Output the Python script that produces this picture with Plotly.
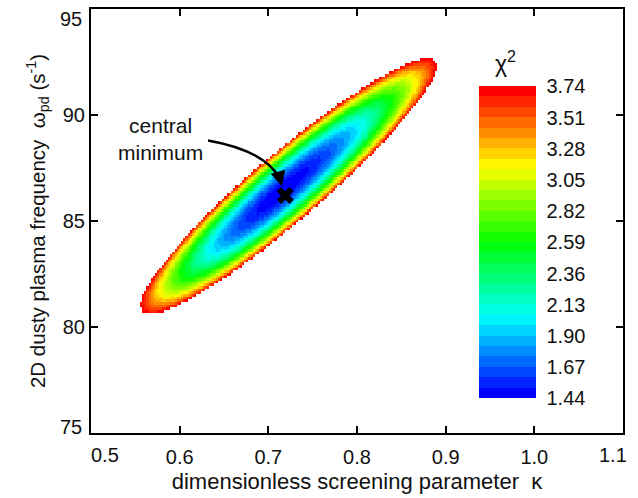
import numpy as np
import plotly.graph_objects as go

# ---- fit results: chi-squared landscape over (kappa, omega_pd) ----
KAPPA_BEST = 0.719          # central minimum, screening parameter
OMEGA_BEST = 86.2           # central minimum, omega_pd (1/s)
KAPPA_C = 0.715             # centre of the chi^2 valley
OMEGA_C = 86.4
CHI2_MIN = 1.44             # minimum chi^2
DELTA_CHI2 = 2.30           # plotted range above minimum (68% region, 2 params)
VALLEY_SLOPE = 33.8         # d(omega)/d(kappa) along the valley floor
REACH_UP = 0.175            # kappa extent of the region toward larger kappa
REACH_DOWN = 0.159          # kappa extent toward smaller kappa
HALF_WIDTH = 2.08           # omega half-width of the region across the valley

# colour bar ticks
CBAR_TICKS = [1.44, 1.67, 1.90, 2.13, 2.36, 2.59, 2.82, 3.05, 3.28, 3.51, 3.74]
N_LEVELS = 30

# axis ticks
X_TICKS = [0.5, 0.6, 0.7, 0.8, 0.9, 1.0, 1.1]
Y_TICKS = [75, 80, 85, 90, 95]

# ---- build the chi^2 map on a regular grid ----
kappa = np.linspace(0.5, 1.1, 246)
omega = np.linspace(75, 95, 161)
K, W = np.meshgrid(kappa, omega)
dk = K - KAPPA_C
dv = (W - OMEGA_C) - VALLEY_SLOPE * dk
reach = np.where(dk > 0, REACH_UP, REACH_DOWN)
chi2 = CHI2_MIN + DELTA_CHI2 * ((dk / reach) ** 2 + (dv / HALF_WIDTH) ** 2)
chi2 = np.where(chi2 <= CHI2_MIN + DELTA_CHI2, chi2, np.nan)

zmin, zmax = CHI2_MIN, CHI2_MIN + DELTA_CHI2


# stepped rainbow colour scale: blue - cyan - green - yellow - red
def rainbow(f):
    anchors = [(0.0, (0, 0, 255)), (0.25, (0, 255, 255)), (0.5, (0, 255, 0)),
               (0.75, (255, 255, 0)), (1.0, (255, 0, 0))]
    for (f0, c0), (f1, c1) in zip(anchors[:-1], anchors[1:]):
        if f <= f1:
            t = (f - f0) / (f1 - f0)
            return "rgb(%d,%d,%d)" % tuple(round(a + t * (b - a)) for a, b in zip(c0, c1))
    return "rgb(255,0,0)"


colorscale = []
for i in range(N_LEVELS):
    c = rainbow(i / (N_LEVELS - 1))
    colorscale.append([i / N_LEVELS, c])
    colorscale.append([(i + 1) / N_LEVELS, c])

FONT = "Arial, Liberation Sans, sans-serif"
FS = 20
TXT = "#111"

fig = go.Figure()
fig.add_trace(go.Heatmap(
    x=kappa, y=omega, z=chi2,
    zmin=zmin, zmax=zmax, zsmooth=False,
    colorscale=colorscale,
    hoverinfo="skip",
    colorbar=dict(
        x=0.7293, xanchor="left", xpad=0,
        y=0.4495, yanchor="middle", ypad=0,
        len=0.735, lenmode="fraction",
        thickness=57, thicknessmode="pixels",
        outlinewidth=0,
        tickvals=CBAR_TICKS,
        ticktext=["%.2f" % v for v in CBAR_TICKS],
        ticks="outside", ticklen=7, tickcolor="rgba(0,0,0,0)",
        tickfont=dict(family=FONT, size=FS, color=TXT),
    ),
))

# colour bar title
fig.add_annotation(xref="paper", yref="paper", x=0.780, y=0.874,
                   xanchor="center", yanchor="middle",
                   text="χ<sup>2</sup>", showarrow=False,
                   font=dict(family=FONT, size=23, color=TXT))

# central minimum marker
fig.add_trace(go.Scatter(
    x=[KAPPA_BEST], y=[OMEGA_BEST], mode="markers",
    marker=dict(symbol="x", size=15, color="black", line=dict(width=0)),
    hoverinfo="skip", showlegend=False,
))

# curved arrow pointing at the minimum
fig.add_shape(type="path", xref="x", yref="y",
              path="M 0.632,88.80 Q 0.700,88.29 0.7145,86.85",
              line=dict(color="black", width=2.5))
fig.add_annotation(x=0.7154, y=86.64, ax=-4, ay=-14, axref="pixel", ayref="pixel",
                   text="", showarrow=True, arrowhead=2, arrowsize=1.2,
                   arrowwidth=2.5, arrowcolor="black")
fig.add_annotation(x=0.578, y=88.85, xanchor="center", yanchor="middle",
                   text="central<br>minimum", showarrow=False,
                   font=dict(family=FONT, size=21, color=TXT), align="center")

# end-of-axis labels are drawn pulled in toward the plot
x_text = ["%.1f" % v for v in X_TICKS]
y_text = [str(v) for v in Y_TICKS]
for v, t, shift in [(X_TICKS[0], x_text[0], 14), (X_TICKS[-1], x_text[-1], -10)]:
    fig.add_annotation(x=v, xref="x", y=0, yref="paper", xanchor="center",
                       yanchor="middle", yshift=-22, xshift=shift, text=t,
                       showarrow=False, font=dict(family=FONT, size=FS, color=TXT))
for v, t, shift in [(Y_TICKS[0], y_text[0], 6), (Y_TICKS[-1], y_text[-1], -10)]:
    fig.add_annotation(x=0, xref="paper", y=v, yref="y", xanchor="right",
                       yanchor="middle", xshift=-7, yshift=shift, text=t,
                       showarrow=False, font=dict(family=FONT, size=FS, color=TXT))

axis_common = dict(
    showgrid=False, zeroline=False,
    showline=True, linecolor="black", linewidth=2, mirror="ticks",
    ticks="inside", ticklen=7, tickwidth=2, tickcolor="black",
    tickfont=dict(family=FONT, size=FS, color=TXT),
)

fig.update_layout(
    width=638, height=498,
    margin=dict(l=91, r=15, t=7, b=65),
    paper_bgcolor="white", plot_bgcolor="white",
    showlegend=False,
    xaxis=dict(range=[0.5, 1.1], tickvals=X_TICKS,
               ticktext=[""] + x_text[1:-1] + [""],
               ticklabelstandoff=5,
               title=dict(text="dimensionless screening parameter\u00a0\u00a0κ",
                          font=dict(family=FONT, size=22, color=TXT), standoff=7),
               **axis_common),
    yaxis=dict(range=[75, 95], tickvals=Y_TICKS,
               ticktext=[""] + y_text[1:-1] + [""],
               title=dict(text="2D dusty plasma frequency\u00a0\u00a0ω<sub>pd</sub> (s<sup>-1</sup>)",
                          font=dict(family=FONT, size=20.5, color=TXT), standoff=12),
               **axis_common),
)

fig.write_html("out.html")
